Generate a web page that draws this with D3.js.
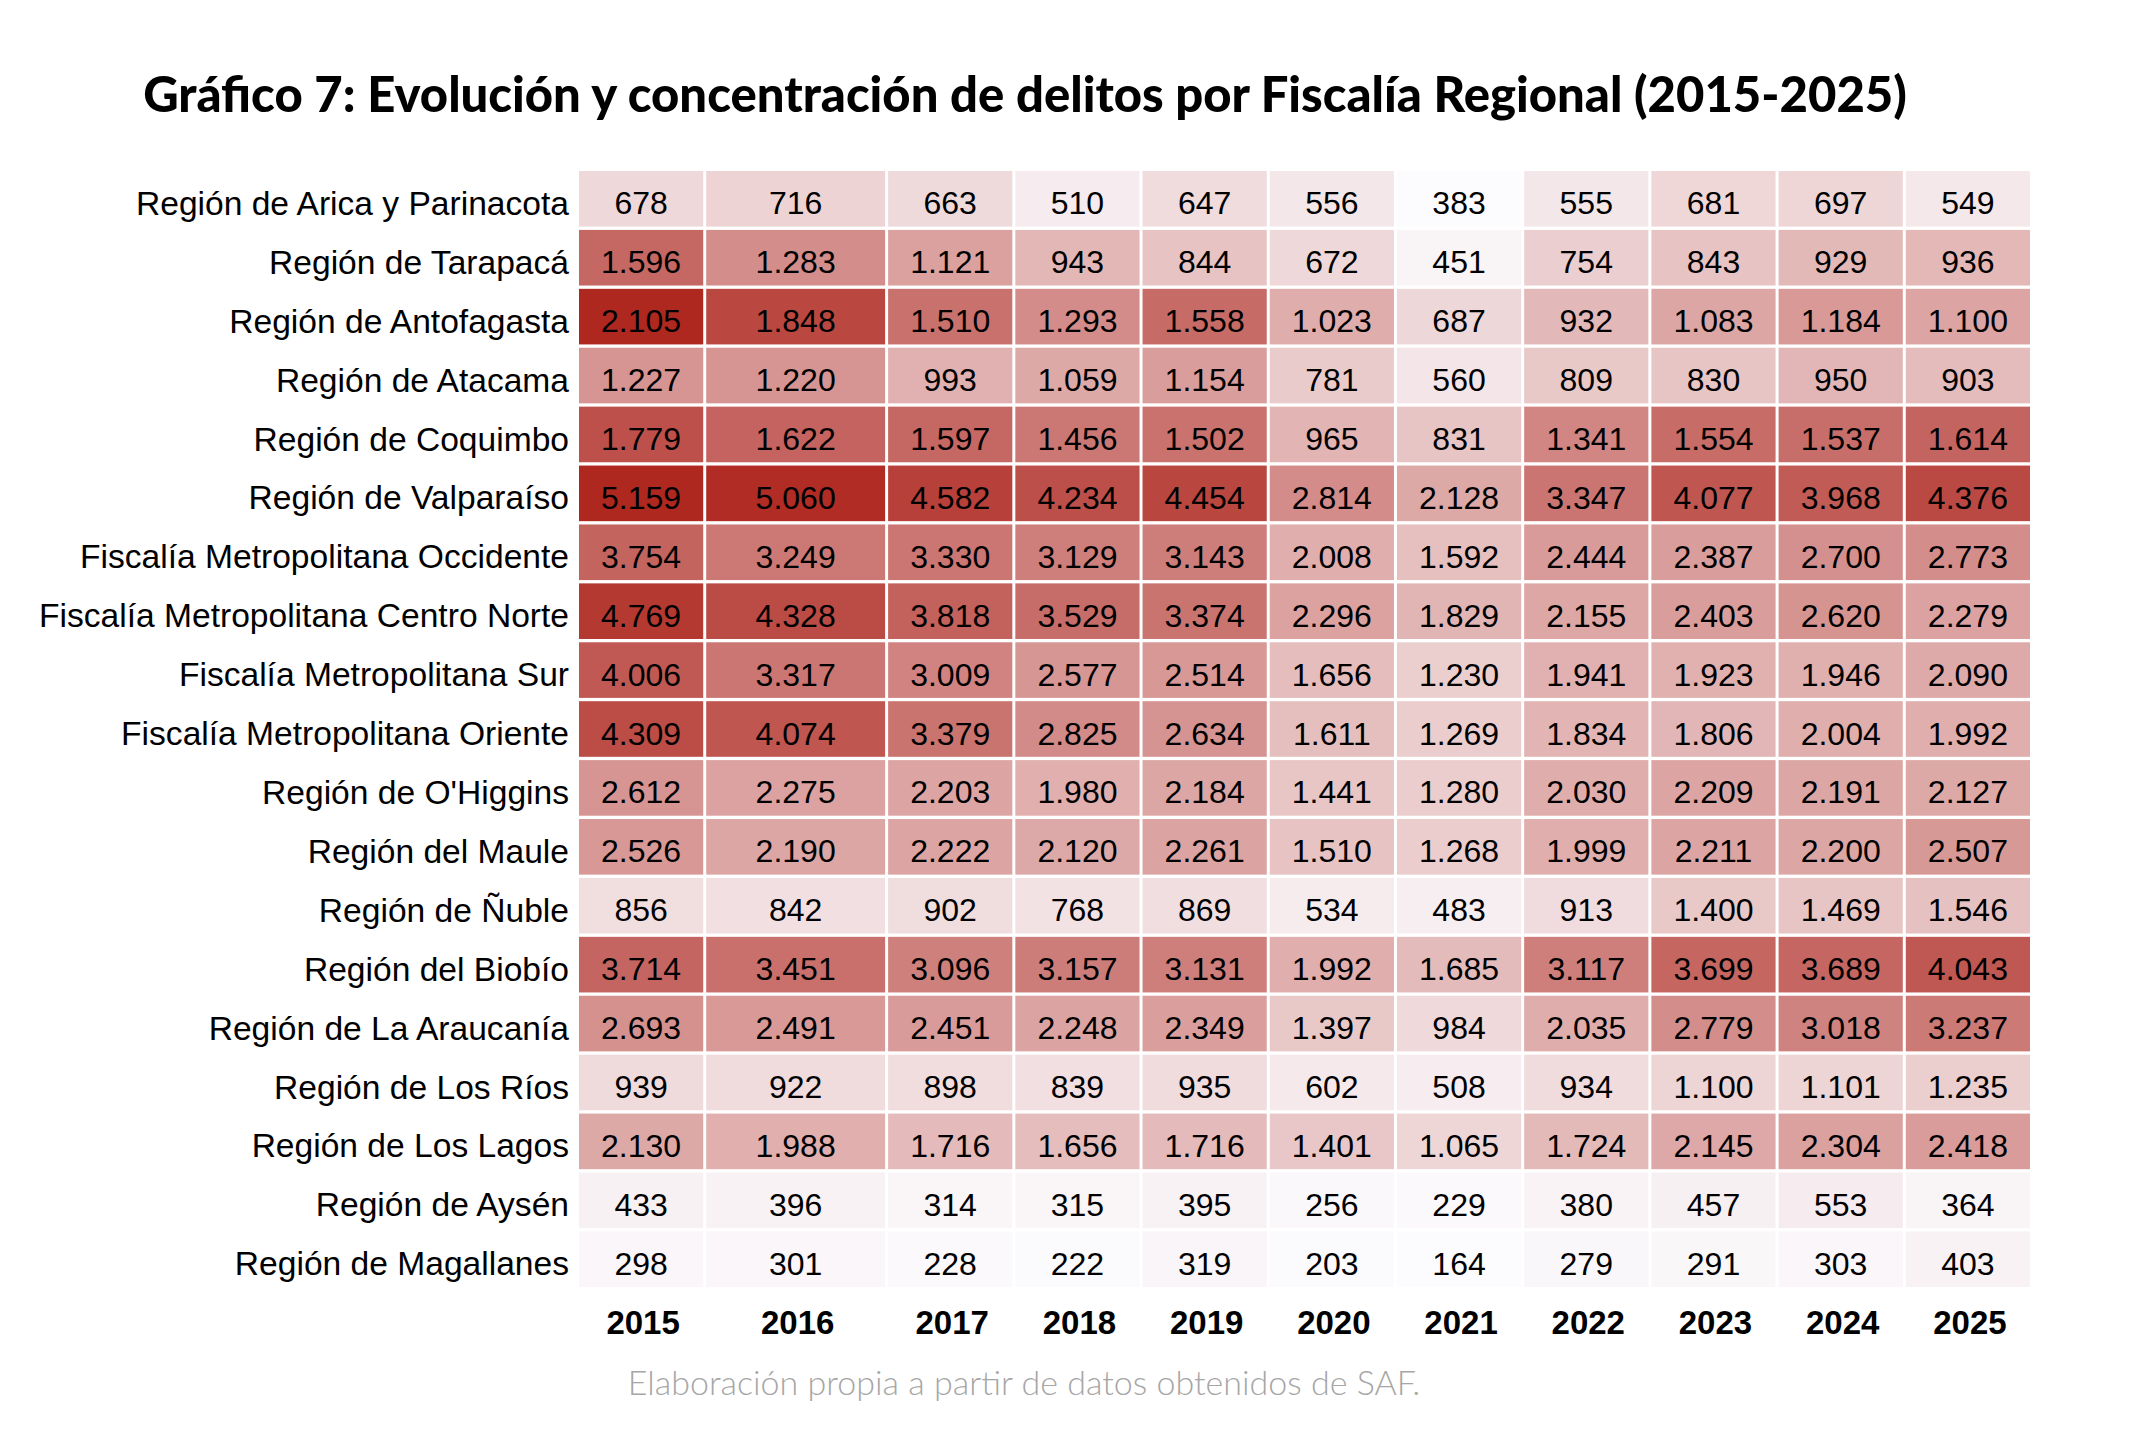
<!DOCTYPE html>
<html>
<head>
<meta charset="utf-8">
<script src="https://cdn.jsdelivr.net/npm/d3@7"></script>
<style>
  body { margin: 0; background: #fff; }
  svg { display: block; }
</style>
</head>
<body>
<svg id="chart" width="2136" height="1440"></svg>
<script>
var years = ["2015", "2016", "2017", "2018", "2019", "2020", "2021", "2022", "2023", "2024", "2025"];

var regions = [
    "Región de Arica y Parinacota",
    "Región de Tarapacá",
    "Región de Antofagasta",
    "Región de Atacama",
    "Región de Coquimbo",
    "Región de Valparaíso",
    "Fiscalía Metropolitana Occidente",
    "Fiscalía Metropolitana Centro Norte",
    "Fiscalía Metropolitana Sur",
    "Fiscalía Metropolitana Oriente",
    "Región de O'Higgins",
    "Región del Maule",
    "Región de Ñuble",
    "Región del Biobío",
    "Región de La Araucanía",
    "Región de Los Ríos",
    "Región de Los Lagos",
    "Región de Aysén",
    "Región de Magallanes"
];

// one row per region, one value per year
var counts = [
    [678, 716, 663, 510, 647, 556, 383, 555, 681, 697, 549],
    [1596, 1283, 1121, 943, 844, 672, 451, 754, 843, 929, 936],
    [2105, 1848, 1510, 1293, 1558, 1023, 687, 932, 1083, 1184, 1100],
    [1227, 1220, 993, 1059, 1154, 781, 560, 809, 830, 950, 903],
    [1779, 1622, 1597, 1456, 1502, 965, 831, 1341, 1554, 1537, 1614],
    [5159, 5060, 4582, 4234, 4454, 2814, 2128, 3347, 4077, 3968, 4376],
    [3754, 3249, 3330, 3129, 3143, 2008, 1592, 2444, 2387, 2700, 2773],
    [4769, 4328, 3818, 3529, 3374, 2296, 1829, 2155, 2403, 2620, 2279],
    [4006, 3317, 3009, 2577, 2514, 1656, 1230, 1941, 1923, 1946, 2090],
    [4309, 4074, 3379, 2825, 2634, 1611, 1269, 1834, 1806, 2004, 1992],
    [2612, 2275, 2203, 1980, 2184, 1441, 1280, 2030, 2209, 2191, 2127],
    [2526, 2190, 2222, 2120, 2261, 1510, 1268, 1999, 2211, 2200, 2507],
    [856, 842, 902, 768, 869, 534, 483, 913, 1400, 1469, 1546],
    [3714, 3451, 3096, 3157, 3131, 1992, 1685, 3117, 3699, 3689, 4043],
    [2693, 2491, 2451, 2248, 2349, 1397, 984, 2035, 2779, 3018, 3237],
    [939, 922, 898, 839, 935, 602, 508, 934, 1100, 1101, 1235],
    [2130, 1988, 1716, 1656, 1716, 1401, 1065, 1724, 2145, 2304, 2418],
    [433, 396, 314, 315, 395, 256, 229, 380, 457, 553, 364],
    [298, 301, 228, 222, 319, 203, 164, 279, 291, 303, 403]
];

// the colour scale is applied separately to the northern block and to the rest
var colorBlocks = [[0, 4], [5, 18]];

var title = "Gráfico 7: Evolución y concentración de delitos por Fiscalía Regional (2015-2025)";
var source = "Elaboración propia a partir de datos obtenidos de SAF.";

// layout
var gridLeft = 579, gridRight = 2030, gridTop = 171, gridBottom = 1287, gap = 3;
var colWeight = years.map(function (y) { return y === "2016" ? 1.43 : 1; });
var cum = [0];
colWeight.forEach(function (w, i) { cum.push(cum[i] + w); });

var x = d3.scaleLinear().domain([0, cum[cum.length - 1]]).range([gridLeft, gridRight + gap]);
var y = d3.scaleBand().domain(regions).range([gridTop, gridBottom]).paddingInner(0.056);

var es = d3.formatLocale({ decimal: ",", thousands: ".", grouping: [3], currency: ["$", ""] });
var fmt = es.format(",d");

var colorOf = regions.map(function () { return null; });
colorBlocks.forEach(function (b) {
    var vals = d3.merge(counts.slice(b[0], b[1] + 1));
    var sc = d3.scaleLinear()
        .domain(d3.extent(vals))
        .range(["#FCFCFF", "#AE2820"])
        .interpolate(d3.interpolateRgb);
    for (var r = b[0]; r <= b[1]; r++) colorOf[r] = sc;
});

var cells = [];
counts.forEach(function (row, r) {
    row.forEach(function (v, c) {
        cells.push({ r: r, c: c, region: regions[r], year: years[c], value: v });
    });
});

var svg = d3.select("#chart");

svg.append("text")
    .attr("x", 1025)
    .attr("y", 112)
    .attr("text-anchor", "middle")
    .style("font-family", "Lato, 'Open Sans', sans-serif")
    .style("font-weight", 900)
    .style("font-size", "49px")
    .attr("fill", "#000")
    .text(title);

var g = svg.append("g");

var cell = g.selectAll("g.cell")
    .data(cells)
    .enter()
    .append("g")
    .attr("class", "cell");

cell.append("rect")
    .attr("x", function (d) { return x(cum[d.c]); })
    .attr("y", function (d) { return y(d.region); })
    .attr("width", function (d) { return x(cum[d.c + 1]) - x(cum[d.c]) - gap; })
    .attr("height", y.bandwidth())
    .attr("fill", function (d) { return colorOf[d.r](d.value); });

cell.append("text")
    .attr("x", function (d) { return (x(cum[d.c]) + x(cum[d.c + 1]) - gap) / 2; })
    .attr("y", function (d) { return y(d.region) + y.bandwidth() / 2 + 4; })
    .attr("dy", "0.36em")
    .attr("text-anchor", "middle")
    .style("font-family", "'Liberation Sans', Arial, sans-serif")
    .style("font-size", "32px")
    .attr("fill", "#000")
    .text(function (d) { return fmt(d.value); });

// row labels
g.selectAll("text.row")
    .data(regions)
    .enter()
    .append("text")
    .attr("class", "row")
    .attr("x", 569)
    .attr("y", function (d) { return y(d) + y.bandwidth() / 2 + 4; })
    .attr("dy", "0.36em")
    .attr("text-anchor", "end")
    .style("font-family", "'Liberation Sans', Arial, sans-serif")
    .style("font-size", "33.6px")
    .attr("fill", "#000")
    .text(function (d) { return d; });

// year labels
g.selectAll("text.year")
    .data(years)
    .enter()
    .append("text")
    .attr("class", "year")
    .attr("x", function (d, i) { return (x(cum[i]) + x(cum[i + 1]) - gap) / 2 + 2; })
    .attr("y", 1322)
    .attr("dy", "0.36em")
    .attr("text-anchor", "middle")
    .style("font-family", "'Liberation Sans', Arial, sans-serif")
    .style("font-weight", 700)
    .style("font-size", "33px")
    .attr("fill", "#000")
    .text(function (d) { return d; });

svg.append("text")
    .attr("x", 1024)
    .attr("y", 1395)
    .attr("text-anchor", "middle")
    .style("font-family", "Lato, 'Open Sans', sans-serif")
    .style("font-weight", 300)
    .style("font-size", "34px")
    .attr("fill", "#a6a6a6")
    .text(source);
</script>
</body>
</html>
